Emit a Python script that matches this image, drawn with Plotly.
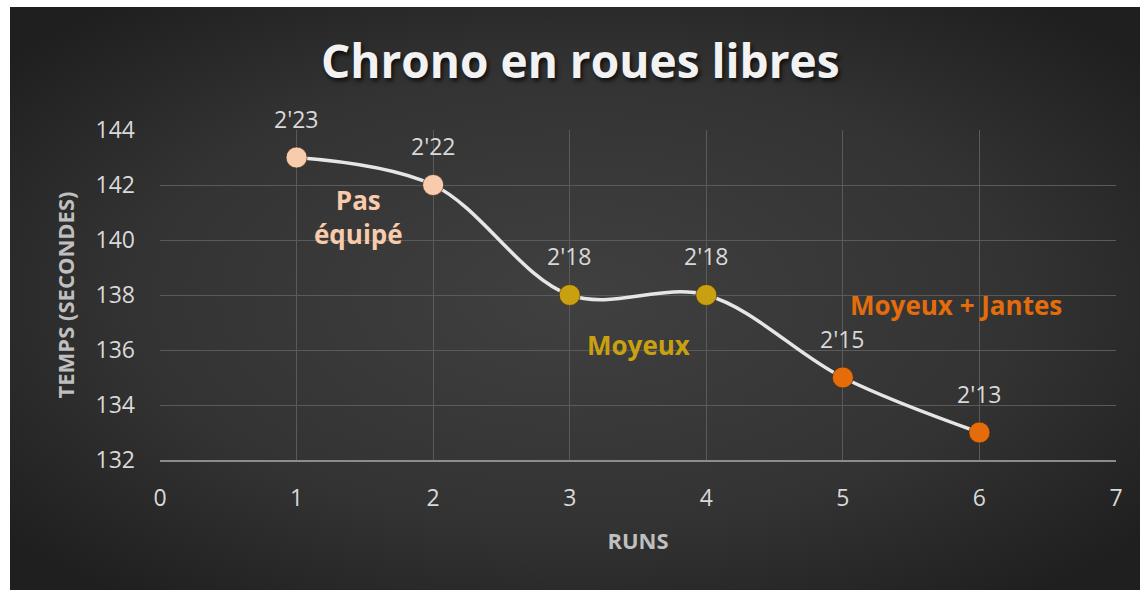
import base64
import plotly.graph_objects as go

# ---- data ----
runs = [1, 2, 3, 4, 5, 6]
temps = [143, 142, 138, 138, 135, 133]
labels = ["2'23", "2'22", "2'18", "2'18", "2'15", "2'13"]
marker_colors = ["#F8CBAD", "#F8CBAD", "#C9A00F", "#C9A00F", "#E46C0A", "#E46C0A"]

group_names = ["Pas<br>équipé", "Moyeux", "Moyeux + Jantes"]
group_x = [1.45, 3.5, 5.83]
group_y = [140.85, 136.2, 137.65]
group_colors = ["#F8CBAD", "#C9A00F", "#E46C0A"]

x_ticks = [0, 1, 2, 3, 4, 5, 6, 7]
y_ticks = [132, 134, 136, 138, 140, 142, 144]

W, H = 1140, 590
L, R, T, B = 160, 24, 130, 130

FONT = "Open Sans"

# background gradient (svg)
svg = '''<svg xmlns="http://www.w3.org/2000/svg" width="1130" height="583" viewBox="0 0 1130 583" preserveAspectRatio="none">
<defs><radialGradient id="g" cx="50%" cy="50%" r="65%">
<stop offset="0%" stop-color="#404040"/>
<stop offset="60%" stop-color="#333333"/>
<stop offset="100%" stop-color="#1f1f1f"/>
</radialGradient></defs>
<rect width="1130" height="583" fill="url(#g)"/>
</svg>'''
src = "data:image/svg+xml;base64," + base64.b64encode(svg.encode()).decode()

pw = W - L - R
ph = H - T - B
bg_x0, bg_y0 = 10, 7

fig = go.Figure()
fig.add_trace(go.Scatter(
    x=runs, y=temps, mode="lines+markers",
    line=dict(color="#E6E6E6", width=3.5, shape="spline", smoothing=1.0),
    marker=dict(size=21, color=marker_colors, line=dict(color="rgba(60,40,20,0.6)", width=1)),
    hoverinfo="skip", showlegend=False,
))

for xv, yv, t in zip(runs, temps, labels):
    fig.add_annotation(x=xv, y=yv, text=t, showarrow=False, yshift=39,
                       font=dict(family=FONT, size=23, color="#D9D9D9"))

for xv, yv, t, c in zip(group_x, group_y, group_names, group_colors):
    fig.add_annotation(x=xv, y=yv, text=f"<b>{t}</b>", showarrow=False,
                       font=dict(family=FONT, size=26, color=c))

fig.add_layout_image(dict(
    source=src, xref="paper", yref="paper",
    x=(bg_x0 - L) / pw, y=(H - B - bg_y0) / ph,
    sizex=(W - bg_x0) / pw, sizey=(H - bg_y0) / ph,
    sizing="stretch", xanchor="left", yanchor="top", layer="below",
))

fig.update_layout(
    width=W, height=H,
    margin=dict(l=L, r=R, t=T, b=B),
    paper_bgcolor="#FFFFFF",
    plot_bgcolor="rgba(0,0,0,0)",
    title=dict(text="<b>Chrono en roues libres</b>", x=0.509, xanchor="center",
               y=(H - 62) / H, yanchor="middle",
               font=dict(family=FONT, size=46, color="#F2F2F2",
                         shadow="2px 3px 4px rgba(0,0,0,0.7)")),
    xaxis=dict(range=[0, 7], tickvals=x_ticks, showgrid=True, gridcolor="#5A5A5A", gridwidth=1,
               zeroline=False, showline=True, linecolor="#8C8C8C", linewidth=2,
               ticks="", ticklabelstandoff=16,
               tickfont=dict(family=FONT, size=23, color="#D9D9D9"),
               title=dict(text="<b>RUNS</b>", standoff=22,
                          font=dict(family=FONT, size=22, color="#BFBFBF"))),
    yaxis=dict(range=[132, 144], tickvals=y_ticks, showgrid=True, gridcolor="#5A5A5A", gridwidth=1,
               zeroline=False, showline=False, ticks="", ticklabelstandoff=24,
               tickfont=dict(family=FONT, size=23, color="#D9D9D9"),
               title=dict(text="<b>TEMPS (SECONDES)</b>", standoff=14,
                          font=dict(family=FONT, size=22, color="#BFBFBF"))),
)

fig.write_html("out.html", config={"displayModeBar": False},
               post_script="document.body.style.margin='0';")
